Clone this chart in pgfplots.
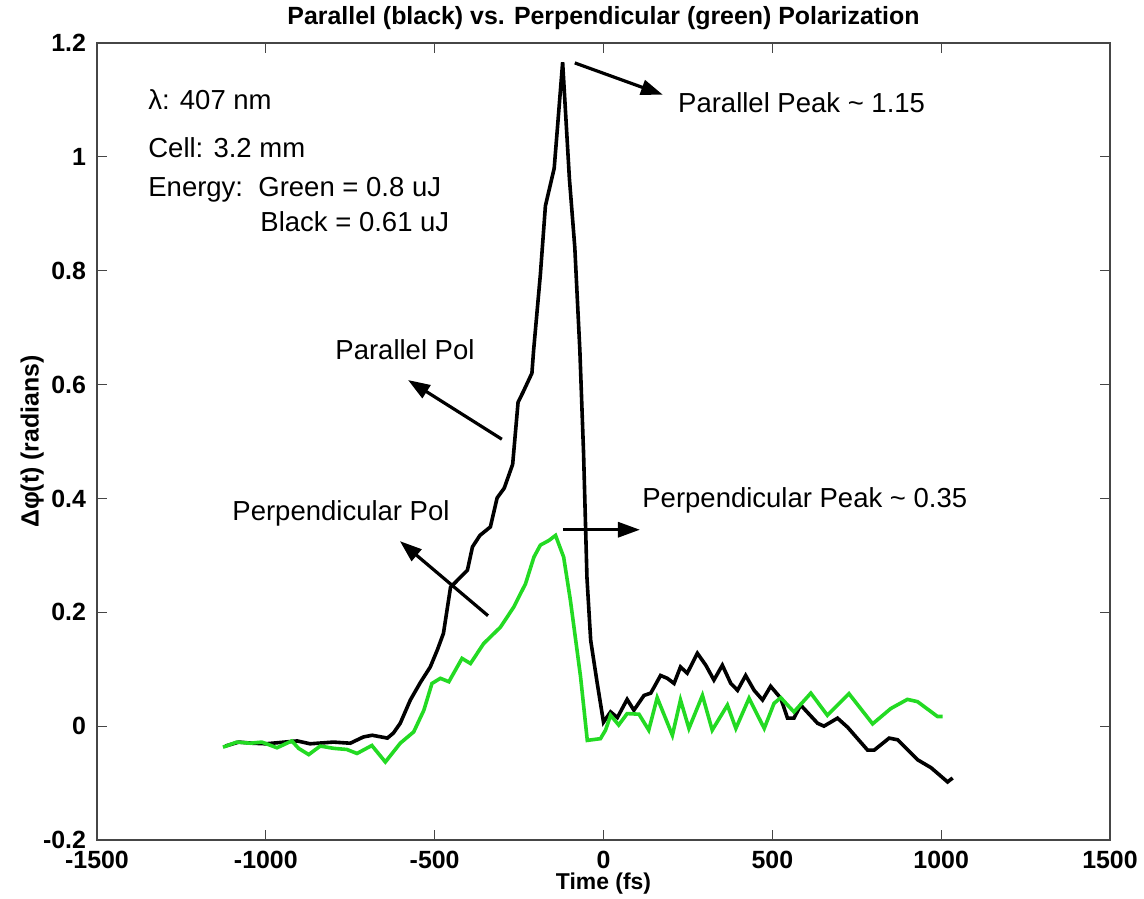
\documentclass[border=0pt]{standalone}
\usepackage{fontspec}
\setmainfont{Liberation Sans}
\usepackage{pgfplots}
\pgfplotsset{compat=1.18}
\usetikzlibrary{arrows.meta}
\definecolor{pgreen}{RGB}{35,218,35}
\definecolor{boxgray}{RGB}{70,70,70}
\begin{document}
\begin{tikzpicture}
\begin{axis}[
  scale only axis,
  width=506.5bp, height=398.5bp,
  xmin=-1500, xmax=1500, ymin=-0.2, ymax=1.2,
  xtick={-1500,-1000,-500,0,500,1000,1500},
  xticklabels={-1500,-1000,-500,0,500,1000,1500},
  ytick={-0.2,0,0.2,0.4,0.6,0.8,1,1.2},
  yticklabels={-0.2,0,0.2,0.4,0.6,0.8,1,1.2},
  tick align=inside,
  major tick length=5bp,
  axis line style={boxgray, line width=0.8bp},
  every tick/.style={boxgray, line width=0.6bp},
  tick label style={font=\bfseries\fontsize{12.5}{12.5}\selectfont},
  xticklabel style={yshift=-2bp},
  yticklabel style={xshift=-2bp},
  xlabel={Time (fs)},
  xlabel style={font=\bfseries\fontsize{11.5}{11.5}\selectfont, at={(axis description cs:0.5,0)}, anchor=center, yshift=-21.8bp},
  ylabel={Δφ(t) (radians)},
  ylabel style={font=\bfseries\fontsize{12.5}{12.5}\selectfont, at={(axis description cs:-0.064,0.5)}, anchor=center, rotate=0},
]
\addplot[black, line width=1.8bp] coordinates {
(-1120,-0.035) (-1080,-0.028) (-1040,-0.030) (-1000,-0.031) (-907,-0.026) (-869,-0.031)
(-800,-0.028) (-750,-0.030) (-711,-0.019) (-685,-0.016) (-640,-0.021) (-622,-0.012)
(-602,0.005) (-572,0.046) (-542,0.077) (-513,0.104) (-492,0.134) (-474,0.163)
(-453,0.244) (-403,0.274) (-388,0.315) (-366,0.335) (-335,0.350) (-315,0.401)
(-294,0.418) (-269,0.460) (-253,0.569) (-238,0.587) (-212,0.620) (-207,0.660)
(-187,0.793) (-172,0.914) (-146,0.980) (-136,1.054) (-121,1.166) (-101,0.962)
(-85,0.841) (-70,0.66) (-59,0.479) (-49,0.261) (-38,0.151) (-19,0.077) (0,0.007)
(21,0.025) (41,0.015) (70,0.047) (90,0.028) (120,0.054) (140,0.058) (169,0.089)
(189,0.084) (209,0.075) (228,0.104) (248,0.093) (278,0.128) (303,0.107) (327,0.081)
(352,0.107) (377,0.075) (397,0.063) (421,0.089) (446,0.063) (471,0.046) (495,0.070)
(525,0.049) (545,0.014) (564,0.014) (584,0.037) (634,0.005) (653,0.0) (693,0.014)
(723,-0.002) (782,-0.042) (802,-0.042) (846,-0.021) (871,-0.024) (930,-0.059)
(970,-0.073) (1019,-0.098) (1034,-0.091)
};
\addplot[pgreen, line width=1.8bp] coordinates {
(-1127,-0.037) (-1086,-0.028) (-1046,-0.030) (-1012,-0.028) (-967,-0.038) (-923,-0.026)
(-903,-0.039) (-873,-0.050) (-839,-0.035) (-799,-0.039) (-760,-0.041) (-730,-0.048)
(-686,-0.034) (-646,-0.063) (-602,-0.030) (-562,-0.010) (-532,0.028) (-508,0.075)
(-483,0.084) (-458,0.078) (-419,0.119) (-394,0.110) (-355,0.145) (-305,0.174)
(-266,0.209) (-231,0.250) (-206,0.297) (-187,0.318) (-162,0.326) (-142,0.335)
(-118,0.297) (-98,0.221) (-68,0.087) (-48,-0.025) (-9,-0.022) (6,-0.007) (21,0.019)
(45,0.002) (70,0.022) (105,0.021) (134,-0.007) (159,0.050) (204,-0.016) (228,0.046)
(253,-0.004) (293,0.054) (322,-0.007) (367,0.037) (392,-0.004) (431,0.049)
(476,-0.004) (505,0.040) (525,0.050) (564,0.025) (614,0.058) (663,0.019) (727,0.057)
(797,0.004) (851,0.031) (900,0.047) (930,0.043) (989,0.017) (1004,0.017)
};
% annotations
\begin{scope}[every node/.style={font=\fontsize{13.8}{13.8}\selectfont, anchor=west, inner sep=0pt}]
\node at (axis cs:-1349,1.100) {λ: 407 nm};
\node at (axis cs:-1349,1.016) {Cell: 3.2 mm};
\node at (axis cs:-1349,0.942) {Energy:\ \ Green = 0.8 uJ};
\node at (axis cs:-1017,0.886) {Black = 0.61 uJ};
\node at (axis cs:220,1.096) {Parallel Peak \textasciitilde\ 1.15};
\node at (axis cs:-795,0.661) {Parallel Pol};
\node at (axis cs:-1100,0.373) {Perpendicular Pol};
\node at (axis cs:114,0.397) {Perpendicular Peak \textasciitilde\ 0.35};
\end{scope}
\begin{scope}[line width=1.6bp, -{Triangle[length=11bp,width=7.5bp]}]
\draw (axis cs:-85,1.165) -- (axis cs:176,1.109);
\draw (axis cs:-301,0.504) -- (axis cs:-579,0.608);
\draw (axis cs:-342,0.194) -- (axis cs:-603,0.325);
\draw (axis cs:-120,0.345) -- (axis cs:108,0.345);
\end{scope}
\end{axis}
% title
\node[font=\bfseries\fontsize{12.5}{12.5}\selectfont, anchor=center] at (253.25bp,411bp)
  {Parallel (black) vs. Perpendicular (green) Polarization};
\pgfresetboundingbox
\path (-48.5bp,-29.5bp) rectangle (523.5bp,420bp);
\end{tikzpicture}
\end{document}
